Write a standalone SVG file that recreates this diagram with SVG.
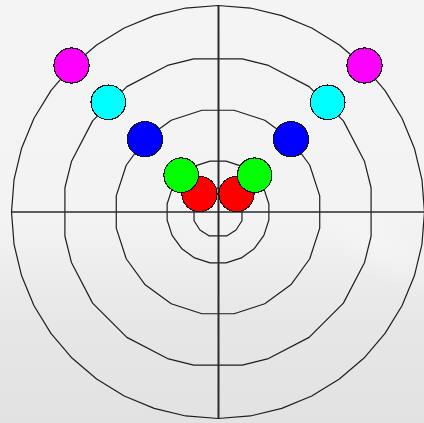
<svg xmlns="http://www.w3.org/2000/svg" width="424" height="423" viewBox="0 0 424 423">
<defs>
<linearGradient id="bg" x1="0" y1="0" x2="0" y2="1">
<stop offset="0" stop-color="#f4f4f4"/>
<stop offset="0.52" stop-color="#f3f3f3"/>
<stop offset="0.6" stop-color="#efefef"/>
<stop offset="0.75" stop-color="#e7e7e7"/>
<stop offset="1" stop-color="#e2e2e2"/>
</linearGradient>
<radialGradient id="shine" cx="0.5" cy="0.5" r="0.5">
<stop offset="0" stop-color="#ffffff" stop-opacity="0.3"/>
<stop offset="1" stop-color="#ffffff" stop-opacity="0"/>
</radialGradient>
<style>
.ring{fill:none;stroke:#1e1e1e;stroke-width:1.2;stroke-linejoin:round}
.axis{stroke:#2a2a2a}
.dot{stroke:#151515;stroke-width:1.1;shape-rendering:crispEdges}
</style>
</defs>
<rect x="0" y="0" width="424" height="423" fill="url(#bg)"/>
<ellipse cx="385" cy="250" rx="80" ry="30" transform="rotate(30 385 250)" fill="url(#shine)"/>
<g id="grid">
<polygon class="ring" points="241.96,220.72 236.03,230.03 226.72,235.96 209.28,235.96 199.97,230.03 194.04,220.72 194.04,203.28 199.97,193.97 209.28,188.04 226.72,188.04 236.03,193.97 241.96,203.28"/>
<polygon class="ring" points="268.87,220.06 263.89,235.38 254.42,248.42 241.38,257.89 226.06,262.87 209.94,262.87 194.62,257.89 181.58,248.42 172.11,235.38 167.13,220.06 167.13,203.94 172.11,188.62 181.58,175.58 194.62,166.11 209.94,161.13 226.06,161.13 241.38,166.11 254.42,175.58 263.89,188.62 268.87,203.94"/>
<polygon class="ring" points="319.73,228.11 309.77,258.76 290.83,284.83 264.76,303.77 234.11,313.73 201.89,313.73 171.24,303.77 145.17,284.83 126.23,258.76 116.27,228.11 116.27,195.89 126.23,165.24 145.17,139.17 171.24,120.23 201.89,110.27 234.11,110.27 264.76,120.23 290.83,139.17 309.77,165.24 319.73,195.89"/>
<polygon class="ring" points="371.09,236.25 364.56,262.46 343.40,303.11 309.11,337.40 268.46,358.56 242.25,365.09 193.75,365.09 167.54,358.56 126.89,337.40 92.60,303.11 71.44,262.46 64.91,236.25 64.91,187.75 71.44,161.54 92.60,120.89 126.89,86.60 167.54,65.44 193.75,58.91 242.25,58.91 268.46,65.44 309.11,86.60 343.40,120.89 364.56,161.54 371.09,187.75"/>
<polygon class="ring" points="424.5,212 421.96,244.30 414.39,275.81 401.99,305.75 385.06,333.38 364.02,358.02 339.38,379.06 311.75,395.99 281.81,408.39 250.30,415.96 218,418.5 185.70,415.96 154.19,408.39 124.25,395.99 96.62,379.06 71.98,358.02 50.94,333.38 34.01,305.75 21.61,275.81 14.04,244.30 11.5,212 14.04,179.70 21.61,148.19 34.01,118.25 50.94,90.62 71.98,65.98 96.62,44.94 124.25,28.01 154.19,15.61 185.70,8.04 218,5.5 250.30,8.04 281.81,15.61 311.75,28.01 339.38,44.94 364.02,65.98 385.06,90.62 401.99,118.25 414.39,148.19 421.96,179.70"/>
<line class="axis" x1="11.5" y1="212" x2="424" y2="212" stroke-width="1.5"/>
<line class="axis" x1="218.5" y1="5.5" x2="218.5" y2="418.5" stroke-width="2"/>
</g>
<g id="magenta-left"><circle class="dot" cx="71.5" cy="65.5" r="17.6" fill="#ff00ff"/></g>
<g id="magenta-right"><circle class="dot" cx="364.5" cy="65.5" r="17.6" fill="#ff00ff"/></g>
<g id="cyan-left"><circle class="dot" cx="108.3" cy="102.3" r="17.3" fill="#00ffff"/></g>
<g id="cyan-right"><circle class="dot" cx="327.7" cy="102.3" r="17.3" fill="#00ffff"/></g>
<g id="blue-left"><circle class="dot" cx="145" cy="139.2" r="17.6" fill="#0000ff"/></g>
<g id="blue-right"><circle class="dot" cx="291" cy="139.2" r="17.6" fill="#0000ff"/></g>
<g id="red-left"><circle class="dot" cx="199.5" cy="194" r="17.6" fill="#ff0000"/></g>
<g id="red-right"><circle class="dot" cx="236.5" cy="194" r="17.6" fill="#ff0000"/></g>
<g id="green-left"><circle class="dot" cx="181.2" cy="175.2" r="17.3" fill="#00ff00"/></g>
<g id="green-right"><circle class="dot" cx="254.6" cy="175.2" r="17.3" fill="#00ff00"/></g>
</svg>
